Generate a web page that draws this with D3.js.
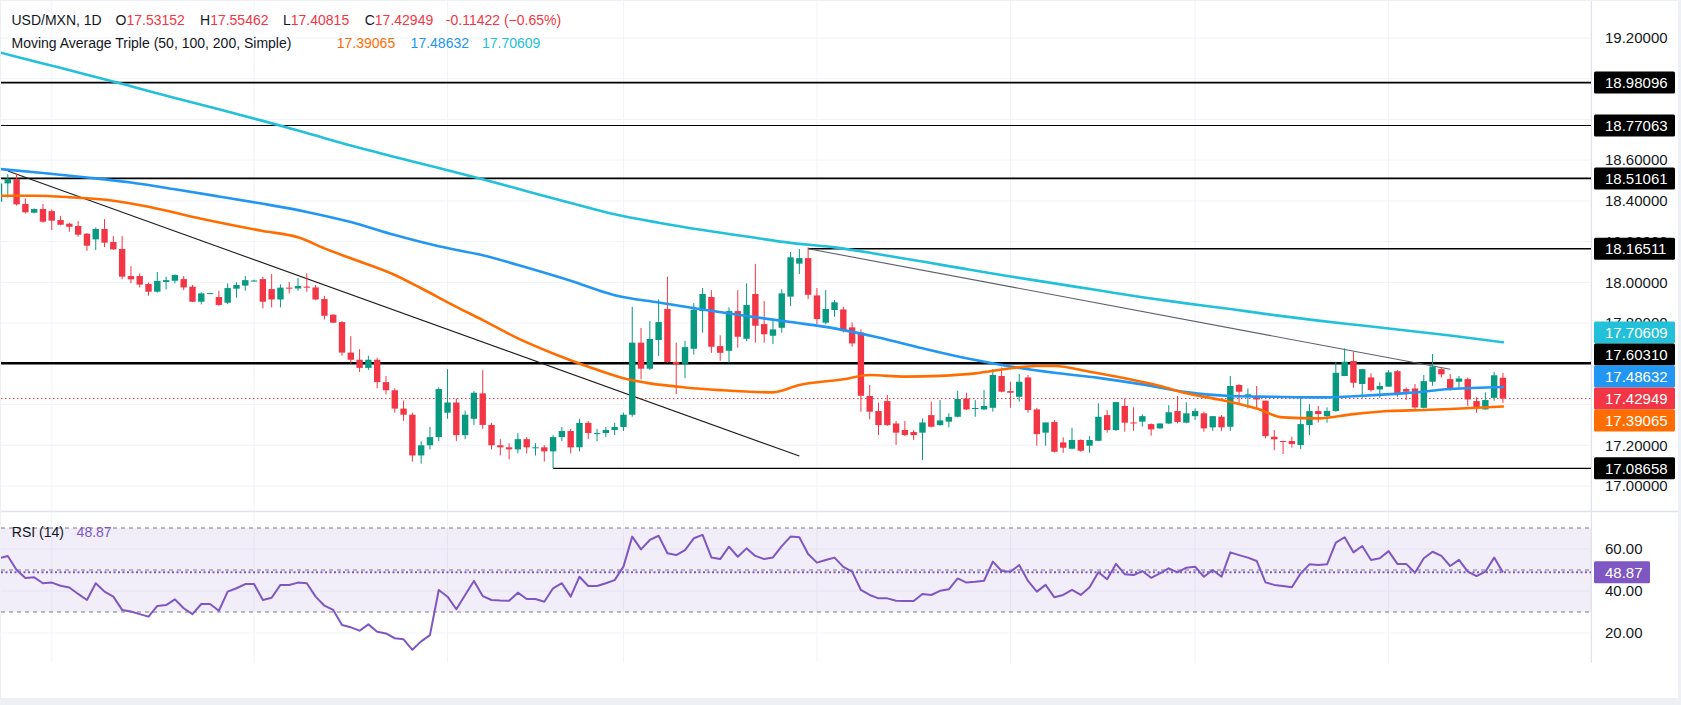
<!DOCTYPE html>
<html>
<head>
<meta charset="utf-8">
<script src="https://cdn.jsdelivr.net/npm/d3@7"></script>
<style>
  html, body { margin: 0; padding: 0; background: #edf0f5; }
  svg { display: block; font-family: "Liberation Sans", Arial, sans-serif; }
</style>
</head>
<body>
<div id="chart"></div>
<script>
// trading days shown on the chart, by month
const tradingDays = [
  ["2025-11", [21,24,25,26,27,28]],
  ["2025-12", [1,2,3,4,5,8,9,10,11,12,15,16,17,18,19,22,23,24,25,26,29,30,31]],
  ["2026-01", [1,2,5,6,7,8,9,12,13,14,15,16,19,20,21,22,23,26,27,28,29,30]],
  ["2026-02", [2,3,4,5,6,9,10,11,12,13,16,17,18,19,20,23,24,25,26,27]],
  ["2026-03", [2,3,4,5,6,9,10,11,12,13,16,17,18,19,20,23,24,25,26,27,30,31]],
  ["2026-04", [1,2,3,6,7,8,9,10,13,14,15,16,17,20,21,22,23,24,27,28,29,30]],
  ["2026-05", [1,4,5,6,7,8,11,12,13,14,15,18,19,20,21,22,25,26,27,28,29]],
  ["2026-06", [1,2,3,4,5,8,9,10,11,12,15,16,17,18,19,22,23,24,25,26,29,30]],
  ["2026-07", [1,2,3,6,7,8,9,10,13,14,15,16,17,20]]
];
// empty days to the right of the last bar (axis only)
const futureDays = ["2026-07-21","2026-07-22","2026-07-23","2026-07-24","2026-07-27",
  "2026-07-28","2026-07-29","2026-07-30","2026-07-31","2026-08-03"];

const open = [
  18.396,18.486,18.507,18.385,18.342,18.360,18.350,18.306,18.288,18.277,
  18.239,18.211,18.262,18.198,18.164,18.031,18.031,17.992,17.954,18.002,
  18.008,18.016,17.979,17.905,17.946,17.928,17.900,17.969,17.984,18.008,
  18.016,17.967,17.916,17.974,17.970,17.979,17.975,17.918,17.841,17.805,
  17.655,17.620,17.580,17.620,17.510,17.470,17.380,17.350,17.150,17.200,
  17.240,17.360,17.410,17.250,17.330,17.455,17.300,17.200,17.190,17.180,
  17.230,17.190,17.190,17.170,17.240,17.270,17.190,17.310,17.260,17.260,
  17.275,17.290,17.350,17.704,17.576,17.717,17.869,17.609,17.600,17.674,
  17.859,17.928,17.687,17.664,17.859,17.723,17.943,17.795,17.738,17.777,
  17.930,18.092,18.119,17.936,17.802,17.864,17.867,17.779,17.754,17.442,
  17.368,17.417,17.307,17.275,17.265,17.262,17.348,17.299,17.316,17.340,
  17.430,17.381,17.376,17.384,17.540,17.466,17.438,17.533,17.376,17.262,
  17.314,17.214,17.183,17.226,17.198,17.222,17.348,17.275,17.393,17.312,
  17.316,17.304,17.283,17.307,17.368,17.311,17.343,17.357,17.288,17.340,
  17.291,17.496,17.438,17.442,17.419,17.242,17.221,17.221,17.201,17.299,
  17.368,17.343,17.368,17.540,17.614,17.501,17.533,17.474,17.488,17.564,
  17.476,17.479,17.384,17.512,17.574,17.525,17.512,17.525,17.417,17.376,
  17.433,17.53152
];
const high = [
  18.490,18.532,18.532,18.412,18.363,18.385,18.358,18.327,18.293,18.301,
  18.242,18.270,18.311,18.227,18.227,18.080,18.044,18.000,18.051,18.028,
  18.039,18.031,17.987,17.951,17.949,17.959,17.995,18.000,18.031,18.013,
  18.028,18.041,17.990,18.002,18.021,18.044,17.987,17.934,17.844,17.810,
  17.736,17.672,17.640,17.630,17.540,17.480,17.420,17.360,17.220,17.290,
  17.484,17.574,17.430,17.370,17.466,17.569,17.310,17.230,17.210,17.260,
  17.240,17.210,17.200,17.250,17.290,17.280,17.330,17.320,17.280,17.290,
  17.310,17.360,17.880,17.776,17.810,17.916,18.028,17.704,17.712,17.898,
  17.972,17.962,17.740,17.877,17.962,17.995,18.090,17.908,17.815,17.966,
  18.149,18.164,18.172,17.972,17.962,17.913,17.880,17.804,17.769,17.496,
  17.409,17.447,17.319,17.319,17.275,17.332,17.414,17.422,17.357,17.468,
  17.458,17.422,17.471,17.574,17.582,17.512,17.550,17.545,17.384,17.312,
  17.324,17.239,17.286,17.229,17.245,17.406,17.373,17.412,17.430,17.386,
  17.352,17.307,17.307,17.397,17.442,17.411,17.381,17.365,17.343,17.348,
  17.540,17.501,17.479,17.491,17.419,17.275,17.222,17.242,17.435,17.402,
  17.393,17.386,17.610,17.676,17.659,17.574,17.553,17.509,17.569,17.569,
  17.484,17.501,17.545,17.648,17.581,17.550,17.540,17.533,17.435,17.460,
  17.561,17.55462
];
const low = [
  18.390,18.416,18.377,18.339,18.339,18.293,18.257,18.280,18.249,18.224,
  18.155,18.159,18.173,18.159,18.015,17.995,17.975,17.934,17.950,17.965,
  17.995,17.962,17.903,17.892,17.943,17.885,17.893,17.925,17.959,18.005,
  17.872,17.877,17.877,17.946,17.959,17.954,17.913,17.818,17.800,17.640,
  17.600,17.560,17.570,17.480,17.450,17.360,17.320,17.120,17.110,17.180,
  17.220,17.330,17.220,17.230,17.300,17.280,17.180,17.150,17.130,17.160,
  17.160,17.150,17.120,17.0866,17.220,17.160,17.170,17.230,17.220,17.240,
  17.250,17.270,17.340,17.524,17.570,17.638,17.605,17.451,17.530,17.645,
  17.753,17.654,17.615,17.605,17.679,17.712,17.704,17.704,17.697,17.753,
  17.884,18.041,17.918,17.795,17.794,17.831,17.754,17.684,17.365,17.327,
  17.250,17.295,17.201,17.245,17.226,17.127,17.288,17.296,17.288,17.337,
  17.373,17.340,17.373,17.365,17.460,17.384,17.414,17.360,17.198,17.198,
  17.165,17.163,17.180,17.168,17.163,17.220,17.262,17.270,17.267,17.271,
  17.291,17.247,17.280,17.304,17.307,17.308,17.324,17.267,17.271,17.271,
  17.270,17.406,17.381,17.381,17.234,17.176,17.157,17.188,17.181,17.250,
  17.311,17.311,17.365,17.540,17.483,17.433,17.463,17.433,17.488,17.438,
  17.422,17.378,17.381,17.492,17.533,17.468,17.474,17.393,17.360,17.376,
  17.419,17.40815
];
const close = [
  18.486,18.507,18.383,18.344,18.360,18.298,18.303,18.283,18.273,18.234,
  18.180,18.262,18.195,18.162,18.028,18.015,17.989,17.954,18.007,18.011,
  18.036,17.975,17.905,17.946,17.947,17.889,17.972,17.987,18.011,18.009,
  17.905,17.916,17.974,17.970,17.982,17.974,17.916,17.836,17.802,17.655,
  17.620,17.580,17.620,17.510,17.470,17.380,17.350,17.150,17.200,17.240,
  17.476,17.410,17.250,17.350,17.458,17.300,17.200,17.190,17.180,17.230,
  17.190,17.190,17.170,17.240,17.270,17.190,17.310,17.260,17.260,17.275,
  17.290,17.350,17.704,17.576,17.722,17.805,17.609,17.597,17.682,17.866,
  17.943,17.684,17.654,17.859,17.733,17.889,17.787,17.745,17.769,17.946,
  18.123,18.119,17.939,17.820,17.869,17.902,17.766,17.700,17.443,17.365,
  17.299,17.299,17.262,17.250,17.250,17.312,17.291,17.322,17.339,17.427,
  17.376,17.383,17.393,17.545,17.463,17.458,17.512,17.373,17.255,17.312,
  17.168,17.188,17.226,17.173,17.226,17.340,17.275,17.412,17.311,17.307,
  17.343,17.278,17.307,17.362,17.314,17.357,17.368,17.283,17.343,17.288,
  17.491,17.463,17.450,17.425,17.245,17.229,17.217,17.206,17.304,17.368,
  17.353,17.368,17.556,17.610,17.507,17.574,17.471,17.491,17.558,17.455,
  17.463,17.386,17.515,17.586,17.548,17.474,17.528,17.425,17.384,17.422,
  17.54371,17.42949
];

// moving averages
const ma50 = [
  ["2025-11-21",18.425],["2025-11-27",18.425],["2025-12-03",18.418],["2025-12-10",18.401],
  ["2025-12-16",18.371],["2025-12-24",18.312],["2026-01-02",18.252],["2026-01-08",18.221],
  ["2026-01-13",18.167],["2026-01-16",18.118],["2026-01-23",18.036],["2026-01-28",17.971],
  ["2026-02-03",17.880],["2026-02-06",17.815],["2026-02-12",17.725],["2026-02-18",17.651],
  ["2026-02-24",17.586],["2026-03-02",17.529],["2026-03-05",17.504],["2026-03-11",17.484],
  ["2026-03-17",17.471],["2026-03-25",17.460],["2026-03-30",17.496],["2026-04-06",17.524],
  ["2026-04-09",17.545],["2026-04-15",17.537],["2026-04-21",17.541],["2026-04-27",17.553],
  ["2026-05-01",17.578],["2026-05-06",17.589],["2026-05-08",17.589],["2026-05-14",17.561],
  ["2026-05-20",17.529],["2026-05-26",17.491],["2026-05-29",17.455],["2026-06-04",17.422],
  ["2026-06-10",17.380],["2026-06-15",17.337],["2026-06-19",17.332],["2026-06-25",17.353],
  ["2026-07-01",17.368],["2026-07-07",17.373],["2026-07-10",17.378],["2026-07-20",17.39065]
];
const ma100 = [
  ["2025-11-21",18.557],["2025-11-28",18.537],["2025-12-05",18.515],["2025-12-12",18.490],
  ["2025-12-19",18.457],["2025-12-26",18.422],["2026-01-02",18.386],["2026-01-09",18.346],
  ["2026-01-16",18.296],["2026-01-23",18.232],["2026-01-30",18.177],["2026-02-06",18.133],
  ["2026-02-13",18.073],["2026-02-20",18.008],["2026-02-27",17.937],["2026-03-06",17.901],
  ["2026-03-13",17.867],["2026-03-20",17.835],["2026-03-27",17.805],["2026-04-03",17.774],
  ["2026-04-10",17.729],["2026-04-17",17.676],["2026-04-24",17.627],["2026-05-01",17.587],
  ["2026-05-08",17.556],["2026-05-15",17.531],["2026-05-22",17.499],["2026-05-29",17.461],
  ["2026-06-05",17.442],["2026-06-12",17.438],["2026-06-19",17.435],["2026-06-26",17.443],
  ["2026-07-03",17.456],["2026-07-10",17.476],["2026-07-20",17.48632]
];
const ma200 = [
  ["2025-11-21",19.130],["2025-11-28",19.075],["2025-12-05",19.020],["2025-12-12",18.963],
  ["2025-12-19",18.905],["2025-12-26",18.850],["2026-01-02",18.793],["2026-01-09",18.733],
  ["2026-01-16",18.672],["2026-01-23",18.616],["2026-01-30",18.562],["2026-02-06",18.506],
  ["2026-02-13",18.448],["2026-02-20",18.390],["2026-02-27",18.334],["2026-03-06",18.293],
  ["2026-03-13",18.257],["2026-03-20",18.225],["2026-03-27",18.194],["2026-04-03",18.172],
  ["2026-04-10",18.138],["2026-04-17",18.102],["2026-04-24",18.065],["2026-05-01",18.029],
  ["2026-05-08",17.995],["2026-05-15",17.961],["2026-05-22",17.927],["2026-05-29",17.897],
  ["2026-06-05",17.869],["2026-06-12",17.839],["2026-06-19",17.812],["2026-06-26",17.788],
  ["2026-07-03",17.764],["2026-07-10",17.739],["2026-07-20",17.70609]
];

const rsi = [
  55.6,56.7,50.0,46.2,46.5,43.7,44.0,42.5,41.7,38.6,
  35.7,43.7,39.7,37.3,31.0,30.2,29.0,27.8,32.9,33.3,
  36.0,31.8,29.0,33.8,33.8,30.6,39.7,41.3,43.3,43.3,
  35.7,36.8,42.9,42.9,44.0,43.7,37.3,33.0,31.0,23.8,
  22.7,21.1,24.1,20.6,19.8,17.5,17.0,12.0,16.0,19.0,
  40.5,37.3,31.3,38.1,44.8,37.6,35.7,35.5,35.4,39.2,
  36.2,36.2,34.9,41.3,43.7,37.3,46.8,42.4,42.4,43.7,
  45.2,51.6,65.9,59.8,64.3,66.3,58.0,57.1,59.5,65.1,
  66.7,56.0,55.2,61.1,56.3,60.3,56.7,55.2,56.0,61.4,
  65.9,65.6,57.6,53.5,54.8,55.9,51.5,49.2,40.5,38.1,
  36.5,36.5,35.4,35.2,35.2,38.6,38.1,40.1,40.8,46.0,
  44.0,44.4,44.9,54.0,49.5,49.2,52.4,44.8,39.7,42.9,
  37.0,38.1,40.5,38.1,41.8,48.9,45.6,52.9,48.0,47.6,
  49.5,46.3,48.4,50.8,48.9,51.1,51.6,46.8,50.0,46.8,
  58.4,57.1,55.9,54.3,44.1,42.9,42.4,41.8,48.4,52.7,
  52.4,52.7,63.0,65.6,58.4,61.4,54.8,55.6,59.0,52.9,
  52.9,48.7,55.6,58.7,56.7,51.9,54.8,49.2,47.1,49.2,
  55.9,48.87
];

// drawn levels and trend lines
const levels = [18.98096, 18.77063, 18.51061, 17.60310];
const partialLevels = [["2026-03-31", 18.16511], ["2026-02-18", 17.08658]];
const trendLines = [
  [["2025-11-24", 18.547], ["2026-03-30", 17.147]],
  [["2026-03-31", 18.16511], ["2026-07-10", 17.573]]
];

const priceTicks = [17.0,17.2,17.4,17.6,17.8,18.0,18.2,18.4,18.6,18.8,19.0,19.2];
const rsiTicks = [20, 40, 60];
const rsiLevels = [70, 50, 30];
const monthTicks = [["2025-12-01","Dec"],["2026-01-01","2026"],["2026-02-02","Feb"],
  ["2026-03-02","Mar"],["2026-04-01","Apr"],["2026-05-01","May"],["2026-06-01","Jun"],
  ["2026-07-01","Jul"],["2026-08-03","Aug"]];

const symbol = "USD/MXN, 1D";
const maTitle = "Moving Average Triple (50, 100, 200, Simple)";

// ---------------------------------------------------------------
const dates = tradingDays.flatMap(([m, ds]) => ds.map(d => `${m}-${String(d).padStart(2, "0")}`));
const bars = dates.map((d, i) => ({date: d, o: open[i], h: high[i], l: low[i], c: close[i]}));
const allDates = dates.concat(futureDays);

const W = 1681, H = 705;
const plotL = 1, plotR = 1591;
const priceTop = 1, priceBot = 511;
const rsiTop = 512, rsiBot = 663;
const step = 8.795;

const GREEN = "#089981", RED = "#f23645", ORANGE = "#ff6d00", BLUE = "#2196f3",
      CYAN = "#22c1d9", PURPLE = "#7e57c2", TEXT = "#131722", GRID = "#f0f3fa";
const FONT = "Liberation Sans, Arial, sans-serif";

const x = d3.scalePoint().domain(allDates).range([-1, -1 + (allDates.length - 1) * step]);
const y = d3.scaleLinear().domain([17.0, 19.2]).range([486, 38]);
const yR = d3.scaleLinear().domain([20, 60]).range([633, 549]);

const svg = d3.select("#chart").append("svg").attr("width", W).attr("height", H);
svg.append("rect").attr("width", W).attr("height", H).attr("fill", "#edf0f5");
svg.append("rect").attr("x", 1).attr("y", 1).attr("width", 1677).attr("height", 697).attr("fill", "#fff");

const defs = svg.append("defs");
defs.append("clipPath").attr("id", "clipPrice").append("rect")
  .attr("x", plotL).attr("y", priceTop).attr("width", plotR - plotL).attr("height", priceBot - priceTop);
defs.append("clipPath").attr("id", "clipRsi").append("rect")
  .attr("x", plotL).attr("y", rsiTop).attr("width", plotR - plotL).attr("height", rsiBot - rsiTop);
defs.append("clipPath").attr("id", "clipTime").append("rect")
  .attr("x", 0).attr("y", rsiBot).attr("width", plotR).attr("height", 36);

// grid
const monthX = monthTicks.map(d => x(d[0]));
[[priceTop, priceBot], [rsiTop, rsiBot]].forEach(([t, b]) => {
  svg.append("g").selectAll("line").data(monthX).join("line")
    .attr("x1", d => d).attr("x2", d => d).attr("y1", t).attr("y2", b)
    .attr("stroke", GRID).attr("stroke-width", 1);
});
svg.append("g").selectAll("line").data(priceTicks).join("line")
  .attr("x1", plotL).attr("x2", plotR).attr("y1", d => y(d)).attr("y2", d => y(d))
  .attr("stroke", GRID);
svg.append("g").selectAll("line").data(rsiTicks).join("line")
  .attr("x1", plotL).attr("x2", plotR).attr("y1", d => yR(d)).attr("y2", d => yR(d))
  .attr("stroke", GRID);

// pane separators
svg.append("line").attr("x1", plotR + 0.5).attr("x2", plotR + 0.5).attr("y1", 1).attr("y2", rsiBot)
  .attr("stroke", "#e0e3eb");
svg.append("line").attr("x1", 1).attr("x2", 1678).attr("y1", priceBot + 0.5).attr("y2", priceBot + 0.5)
  .attr("stroke", "#e0e3eb").attr("stroke-width", 1.5);

// ---------------- price pane
const pp = svg.append("g").attr("clip-path", "url(#clipPrice)");

const levelWidth = [1.6, 1.1, 1.6, 2.4];
pp.append("g").selectAll("line").data(levels).join("line")
  .attr("x1", plotL).attr("x2", plotR).attr("y1", d => y(d)).attr("y2", d => y(d))
  .attr("stroke", "#000").attr("stroke-width", (d, i) => levelWidth[i]);
pp.append("g").selectAll("line").data(partialLevels).join("line")
  .attr("x1", d => x(d[0])).attr("x2", plotR).attr("y1", d => y(d[1])).attr("y2", d => y(d[1]))
  .attr("stroke", "#000").attr("stroke-width", 1.4);
pp.append("g").selectAll("line").data(trendLines).join("line")
  .attr("x1", d => x(d[0][0])).attr("y1", d => y(d[0][1]))
  .attr("x2", d => x(d[1][0])).attr("y2", d => y(d[1][1]))
  .attr("stroke", (d, i) => i === 0 ? "#1e1e1e" : "#5d606b").attr("stroke-width", 1.1);

// last price dotted line
const last = close.length - 1;
pp.append("line").attr("x1", plotL).attr("x2", plotR)
  .attr("y1", y(close[last])).attr("y2", y(close[last]))
  .attr("stroke", RED).attr("stroke-width", 1).attr("stroke-dasharray", "1.5 2.5");

// candles
const bodyW = 6.4;
const cg = pp.append("g");
cg.selectAll("line").data(bars).join("line")
  .attr("x1", d => x(d.date)).attr("x2", d => x(d.date))
  .attr("y1", d => y(d.h)).attr("y2", d => y(d.l))
  .attr("stroke", d => d.c >= d.o ? GREEN : RED).attr("stroke-width", 1);
cg.selectAll("rect").data(bars).join("rect")
  .attr("x", d => x(d.date) - bodyW / 2).attr("width", bodyW)
  .attr("y", d => y(Math.max(d.o, d.c)))
  .attr("height", d => Math.max(1, Math.abs(y(d.o) - y(d.c))))
  .attr("fill", d => d.c >= d.o ? GREEN : RED);

// moving averages
const maLine = d3.line().x(d => x(d[0])).y(d => y(d[1])).curve(d3.curveMonotoneX);
[[ma200, CYAN], [ma100, BLUE], [ma50, ORANGE]].forEach(([data, col]) => {
  pp.append("path").datum(data).attr("d", maLine)
    .attr("fill", "none").attr("stroke", col).attr("stroke-width", 2.6)
    .attr("stroke-linejoin", "round").attr("stroke-linecap", "round");
});

// ---------------- RSI pane
const rp = svg.append("g").attr("clip-path", "url(#clipRsi)");
rp.append("rect").attr("x", plotL).attr("width", plotR - plotL)
  .attr("y", yR(70)).attr("height", yR(30) - yR(70))
  .attr("fill", PURPLE).attr("fill-opacity", 0.1);
rp.append("g").selectAll("line").data(rsiLevels).join("line")
  .attr("x1", plotL).attr("x2", plotR).attr("y1", d => yR(d)).attr("y2", d => yR(d))
  .attr("stroke", "#787b86").attr("stroke-width", 1).attr("stroke-dasharray", "4 4");
const rsiLast = rsi[rsi.length - 1];
rp.append("line").attr("x1", plotL).attr("x2", plotR)
  .attr("y1", yR(rsiLast)).attr("y2", yR(rsiLast))
  .attr("stroke", PURPLE).attr("stroke-width", 2).attr("stroke-dasharray", "2 2.5");
rp.append("path").datum(rsi)
  .attr("d", d3.line().x((d, i) => x(dates[i])).y(d => yR(d)))
  .attr("fill", "none").attr("stroke", PURPLE).attr("stroke-width", 2).attr("stroke-linejoin", "round");

// ---------------- price badges (stacked so they do not overlap)
const badges = [
  {v: levels[0], bg: "#000"}, {v: levels[1], bg: "#000"}, {v: levels[2], bg: "#000"},
  {v: partialLevels[0][1], bg: "#000"}, {v: ma200[ma200.length - 1][1], bg: CYAN},
  {v: levels[3], bg: "#000"}, {v: ma100[ma100.length - 1][1], bg: BLUE},
  {v: close[last], bg: RED, anchor: true}, {v: ma50[ma50.length - 1][1], bg: ORANGE},
  {v: partialLevels[1][1], bg: "#000"}
];
const bh = 22;
badges.forEach(b => b.y = y(b.v));
const ai = badges.findIndex(b => b.anchor);
for (let i = ai - 1; i >= 0; i--) badges[i].y = Math.min(badges[i].y, badges[i + 1].y - bh);
for (let i = ai + 1; i < badges.length; i++) badges[i].y = Math.max(badges[i].y, badges[i - 1].y + bh);

// tick labels that a badge hides completely are left out
const coveredAt = v => badges.some(b => v >= b.y - bh / 2 - 0.5 && v <= b.y + bh / 2 + 0.5);
const shownTicks = priceTicks.filter(t => !(coveredAt(y(t) - 5) && coveredAt(y(t) + 5)));

// ---------------- axes
const fmt5 = d3.format(".5f");
const pAxis = svg.append("g").attr("transform", `translate(${plotR},0)`)
  .call(d3.axisRight(y).tickValues(shownTicks).tickFormat(fmt5).tickSize(0).tickPadding(14));
pAxis.select(".domain").remove();
pAxis.selectAll("text").attr("font-size", 15).attr("fill", TEXT).attr("font-family", FONT);

const rAxis = svg.append("g").attr("transform", `translate(${plotR},0)`)
  .call(d3.axisRight(yR).tickValues(rsiTicks).tickFormat(d3.format(".2f")).tickSize(0).tickPadding(14));
rAxis.select(".domain").remove();
rAxis.selectAll("text").attr("font-size", 15).attr("fill", TEXT).attr("font-family", FONT);

const tAxis = svg.append("g").attr("clip-path", "url(#clipTime)")
  .attr("transform", `translate(0,${rsiBot})`)
  .call(d3.axisBottom(x).tickValues(monthTicks.map(d => d[0]))
    .tickFormat((d, i) => monthTicks[i][1]).tickSize(0).tickPadding(13));
tAxis.select(".domain").remove();
tAxis.selectAll("text").attr("font-size", 14).attr("fill", TEXT).attr("font-family", FONT)
  .attr("font-weight", (d, i) => monthTicks[i][1] === "2026" ? "bold" : "normal");

const bg = svg.append("g");
bg.selectAll("rect").data(badges).join("rect")
  .attr("x", plotR + 3).attr("width", 81).attr("y", d => d.y - bh / 2).attr("height", bh)
  .attr("rx", 1.5).attr("fill", d => d.bg);
bg.selectAll("text").data(badges).join("text")
  .attr("x", 1605).attr("y", d => d.y).attr("dy", "0.36em")
  .attr("font-size", 15).attr("fill", "#fff").text(d => fmt5(d.v));

svg.append("rect").attr("x", plotR + 3).attr("width", 56).attr("y", yR(rsiLast) - bh / 2).attr("height", bh)
  .attr("rx", 1.5).attr("fill", PURPLE);
svg.append("text").attr("x", 1605).attr("y", yR(rsiLast)).attr("dy", "0.36em")
  .attr("font-size", 15).attr("fill", "#fff").text(d3.format(".2f")(rsiLast));

// ---------------- legends
const lg = svg.append("g").attr("font-size", 14).attr("fill", TEXT);
lg.append("text").attr("x", 11.5).attr("y", 25).text(symbol);
const chg = close[last] - close[last - 1];
const ohlc = [["O", open[last], 115.6], ["H", high[last], 200], ["L", low[last], 283], ["C", close[last], 364.7]];
ohlc.forEach(([k, v, px]) => {
  const t = lg.append("text").attr("x", px).attr("y", 25);
  t.append("tspan").text(k);
  t.append("tspan").attr("fill", RED).text(fmt5(v));
});
lg.append("text").attr("x", 445.8).attr("y", 25).attr("fill", RED)
  .text(`${chg.toFixed(5)} (\u2212${Math.abs(chg / close[last - 1] * 100).toFixed(2)}%)`);

lg.append("text").attr("x", 11.5).attr("y", 48).text(maTitle);
[[ma50, ORANGE, 336.8], [ma100, BLUE, 410.6], [ma200, CYAN, 482]].forEach(([d, col, px]) => {
  lg.append("text").attr("x", px).attr("y", 48).attr("fill", col).text(fmt5(d[d.length - 1][1]));
});

lg.append("text").attr("x", 11.8).attr("y", 537).text("RSI (14)");
lg.append("text").attr("x", 76.6).attr("y", 537).attr("fill", PURPLE).text(d3.format(".2f")(rsiLast));
</script>
</body>
</html>
